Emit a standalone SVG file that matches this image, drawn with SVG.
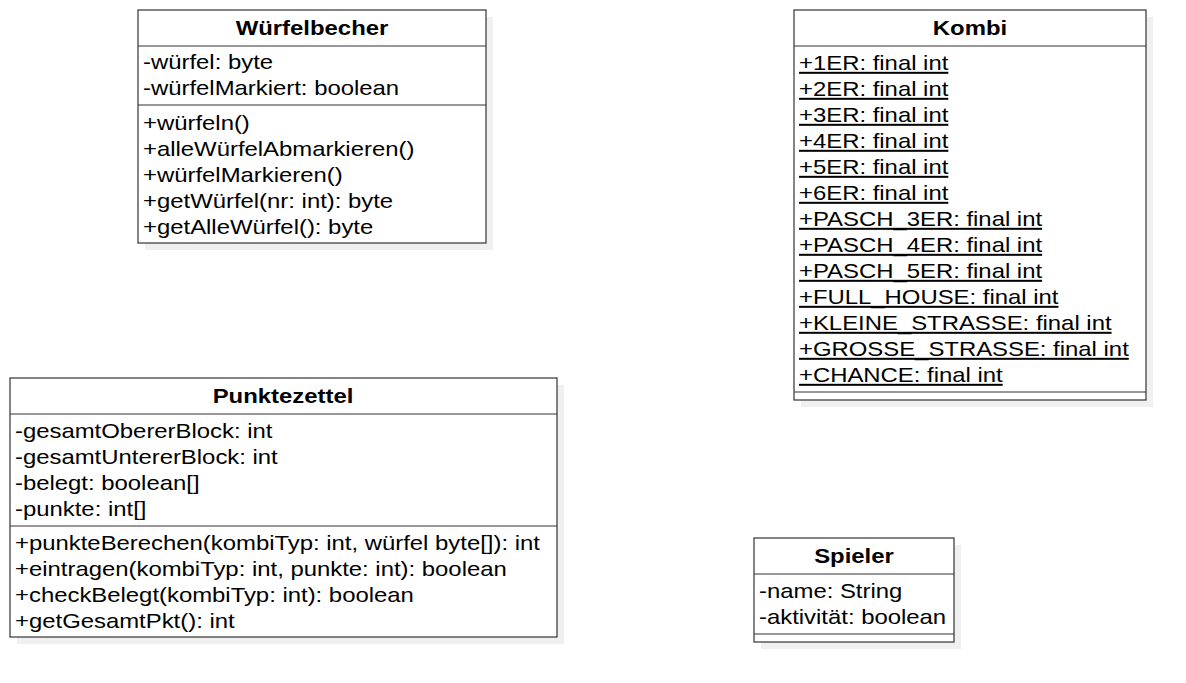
<svg xmlns="http://www.w3.org/2000/svg" width="1186" height="683" viewBox="0 0 1186 683">
  <style>
    .shadow { fill: #f0f0f0; stroke: none; }
    .box { fill: #ffffff; stroke: #333333; stroke-width: 1.2; }
    .sep { stroke: #333333; stroke-width: 1.2; fill: none; }
    .title { font-family: "Liberation Sans", Arial, sans-serif; font-size: 20px; font-weight: bold; fill: #000; text-anchor: middle; }
    .member { font-family: "Liberation Sans", Arial, sans-serif; font-size: 20px; fill: #000; }
    .static { text-decoration: underline; }
  </style>
  <rect width="1186" height="683" fill="#ffffff"/>

  <!-- class Würfelbecher -->
  <g id="wuerfelbecher">
    <rect class="shadow" x="145" y="17" width="348" height="233"/>
    <rect class="box" x="138" y="10" width="348" height="233"/>
    <line class="sep" x1="138" y1="46" x2="486" y2="46"/>
    <line class="sep" x1="138" y1="105" x2="486" y2="105"/>
    <text class="title" transform="matrix(1.195 0 0 1 312 35)">Würfelbecher</text>
    <text class="member" transform="matrix(1.195 0 0 1 143 69)">-würfel: byte</text>
    <text class="member" transform="matrix(1.195 0 0 1 143 95)">-würfelMarkiert: boolean</text>
    <text class="member" transform="matrix(1.195 0 0 1 143 130)">+würfeln()</text>
    <text class="member" transform="matrix(1.195 0 0 1 143 156)">+alleWürfelAbmarkieren()</text>
    <text class="member" transform="matrix(1.195 0 0 1 143 182)">+würfelMarkieren()</text>
    <text class="member" transform="matrix(1.195 0 0 1 143 208)">+getWürfel(nr: int): byte</text>
    <text class="member" transform="matrix(1.195 0 0 1 143 234)">+getAlleWürfel(): byte</text>
  </g>

  <!-- class Kombi -->
  <g id="kombi">
    <rect class="shadow" x="801" y="17" width="352" height="390"/>
    <rect class="box" x="794" y="10" width="352" height="390"/>
    <line class="sep" x1="794" y1="46" x2="1146" y2="46"/>
    <line class="sep" x1="794" y1="392" x2="1146" y2="392"/>
    <text class="title" transform="matrix(1.195 0 0 1 970 35)">Kombi</text>
    <text class="member static" transform="matrix(1.195 0 0 1 799 70)">+1ER: final int</text>
    <text class="member static" transform="matrix(1.195 0 0 1 799 96)">+2ER: final int</text>
    <text class="member static" transform="matrix(1.195 0 0 1 799 122)">+3ER: final int</text>
    <text class="member static" transform="matrix(1.195 0 0 1 799 148)">+4ER: final int</text>
    <text class="member static" transform="matrix(1.195 0 0 1 799 174)">+5ER: final int</text>
    <text class="member static" transform="matrix(1.195 0 0 1 799 200)">+6ER: final int</text>
    <text class="member static" transform="matrix(1.195 0 0 1 799 226)">+PASCH_3ER: final int</text>
    <text class="member static" transform="matrix(1.195 0 0 1 799 252)">+PASCH_4ER: final int</text>
    <text class="member static" transform="matrix(1.195 0 0 1 799 278)">+PASCH_5ER: final int</text>
    <text class="member static" transform="matrix(1.195 0 0 1 799 304)">+FULL_HOUSE: final int</text>
    <text class="member static" transform="matrix(1.195 0 0 1 799 330)">+KLEINE_STRASSE: final int</text>
    <text class="member static" transform="matrix(1.195 0 0 1 799 356)">+GROSSE_STRASSE: final int</text>
    <text class="member static" transform="matrix(1.195 0 0 1 799 382)">+CHANCE: final int</text>
  </g>

  <!-- class Punktezettel -->
  <g id="punktezettel">
    <rect class="shadow" x="17" y="385" width="547" height="259"/>
    <rect class="box" x="10" y="378" width="547" height="259"/>
    <line class="sep" x1="10" y1="414" x2="557" y2="414"/>
    <line class="sep" x1="10" y1="526" x2="557" y2="526"/>
    <text class="title" transform="matrix(1.195 0 0 1 283 403)">Punktezettel</text>
    <text class="member" transform="matrix(1.195 0 0 1 15 438)">-gesamtObererBlock: int</text>
    <text class="member" transform="matrix(1.195 0 0 1 15 464)">-gesamtUntererBlock: int</text>
    <text class="member" transform="matrix(1.195 0 0 1 15 490)">-belegt: boolean[]</text>
    <text class="member" transform="matrix(1.195 0 0 1 15 516)">-punkte: int[]</text>
    <text class="member" transform="matrix(1.195 0 0 1 15 550)">+punkteBerechen(kombiTyp: int, würfel byte[]): int</text>
    <text class="member" transform="matrix(1.195 0 0 1 15 576)">+eintragen(kombiTyp: int, punkte: int): boolean</text>
    <text class="member" transform="matrix(1.195 0 0 1 15 602)">+checkBelegt(kombiTyp: int): boolean</text>
    <text class="member" transform="matrix(1.195 0 0 1 15 628)">+getGesamtPkt(): int</text>
  </g>

  <!-- class Spieler -->
  <g id="spieler">
    <rect class="shadow" x="761" y="545" width="200" height="104"/>
    <rect class="box" x="754" y="538" width="200" height="104"/>
    <line class="sep" x1="754" y1="574" x2="954" y2="574"/>
    <line class="sep" x1="754" y1="634" x2="954" y2="634"/>
    <text class="title" transform="matrix(1.195 0 0 1 854 563)">Spieler</text>
    <text class="member" transform="matrix(1.195 0 0 1 759 598)">-name: String</text>
    <text class="member" transform="matrix(1.195 0 0 1 759 624)">-aktivität: boolean</text>
  </g>

  <!-- no associations are drawn between the classes -->
  <g id="connectors"/>
</svg>
